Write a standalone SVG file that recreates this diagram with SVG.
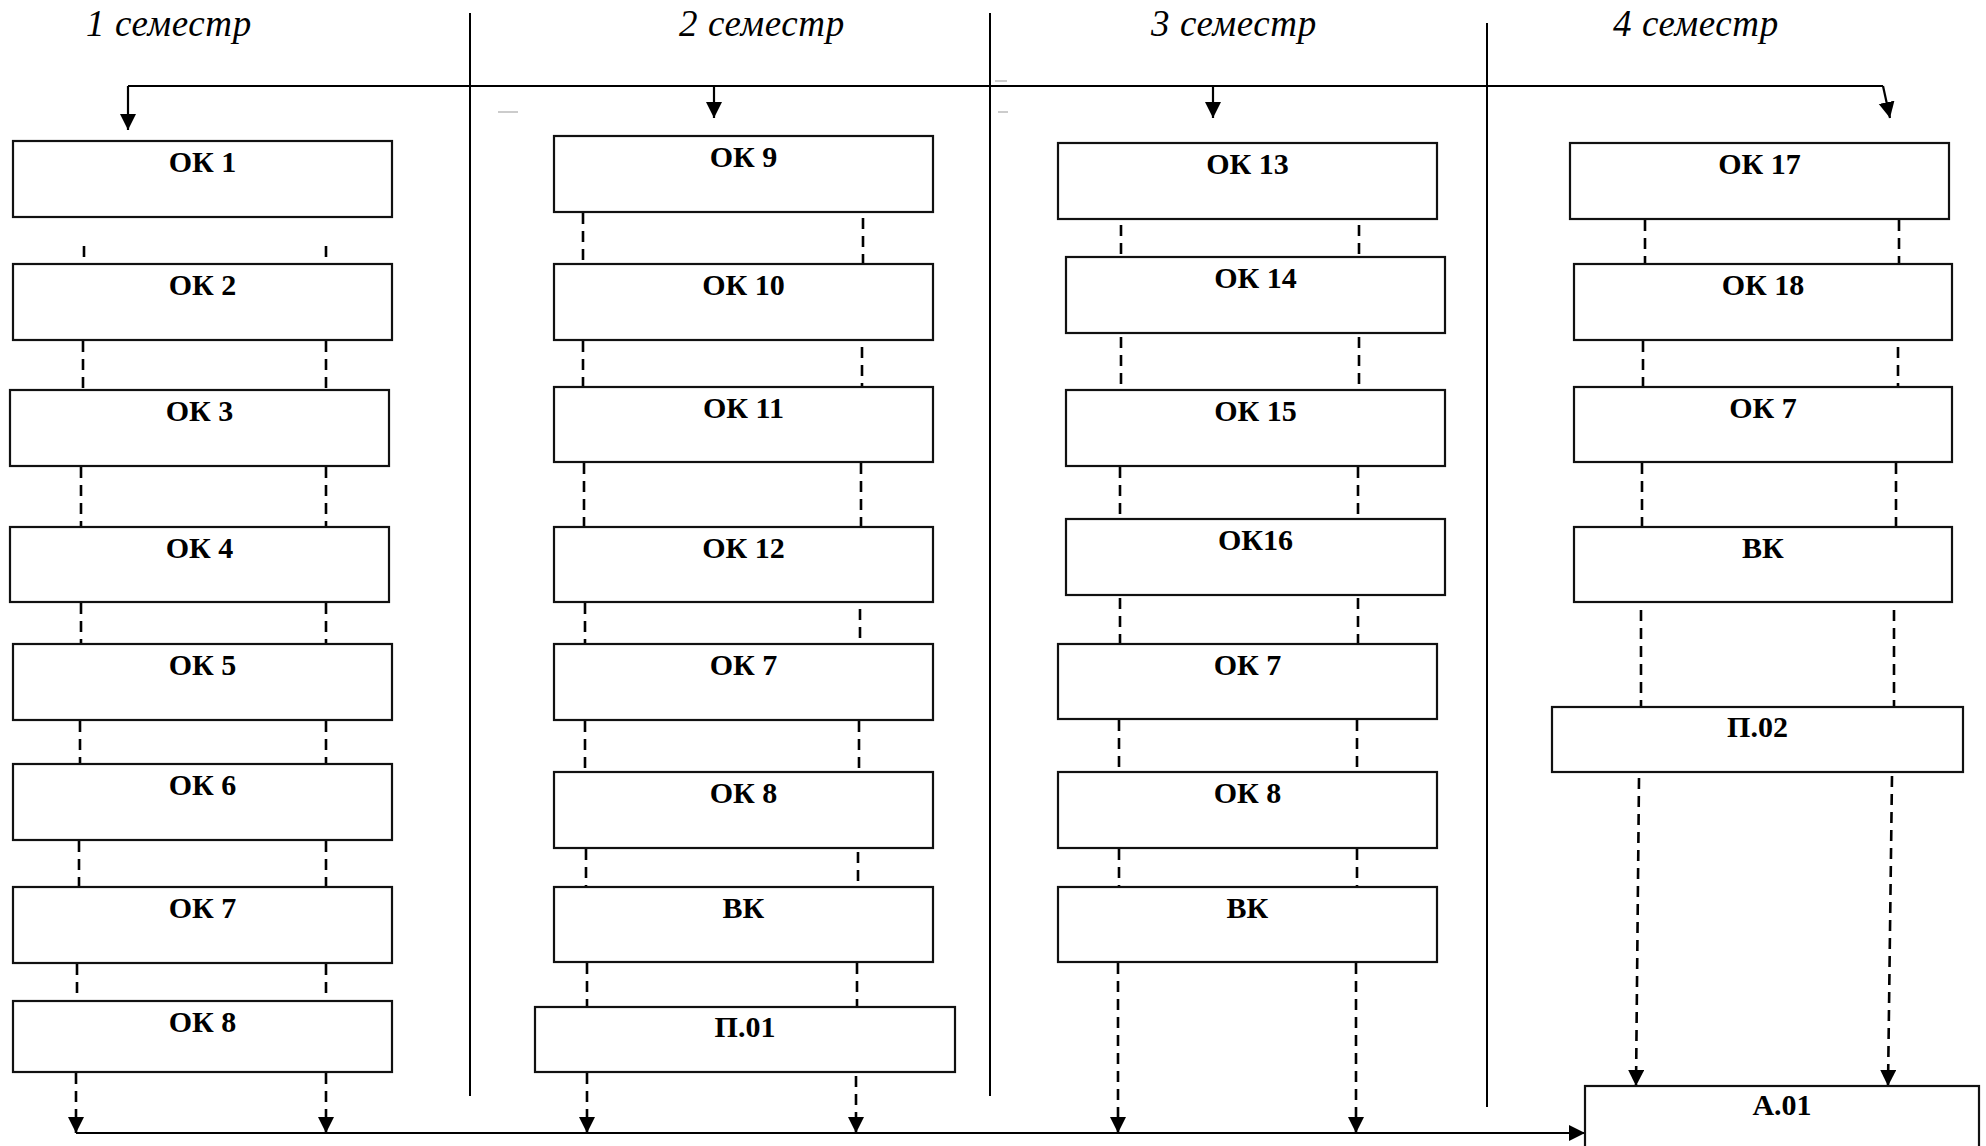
<svg xmlns="http://www.w3.org/2000/svg" width="1986" height="1146" viewBox="0 0 1986 1146">
<style>
  .box { fill: #ffffff; stroke: #111111; stroke-width: 2.2; }
  .lbl { font-family: "Liberation Serif", "Times New Roman", serif; font-weight: bold; font-size: 30px; fill: #000; text-anchor: middle; }
  .hdr { font-family: "Liberation Serif", "Times New Roman", serif; font-style: italic; font-size: 37px; letter-spacing: 0.6px; fill: #000; }
  .div { stroke: #000; stroke-width: 2; fill: none; }
  .solid { stroke: #000; stroke-width: 2.2; fill: none; }
  .dash { stroke: #000; stroke-width: 2.6; fill: none; stroke-dasharray: 11 7; }
  .art { stroke: #999; stroke-width: 1; }
</style>
<defs>
  <marker id="ah" markerUnits="userSpaceOnUse" markerWidth="17" markerHeight="17" refX="16" refY="8" orient="auto">
    <path d="M0,0 L16,8 L0,16 z" fill="#000"/>
  </marker>
</defs>
<rect x="0" y="0" width="1986" height="1146" fill="#ffffff"/>

<g id="headers">
  <text class="hdr" x="86" y="36">1 семестр</text>
  <text class="hdr" x="679" y="36">2 семестр</text>
  <text class="hdr" x="1151" y="36">3 семестр</text>
  <text class="hdr" x="1613" y="36">4 семестр</text>
</g>

<g id="dividers">
  <line class="div" x1="470" y1="13" x2="470" y2="1096"/>
  <line class="div" x1="990" y1="13" x2="990" y2="1096"/>
  <line class="div" x1="1487" y1="23" x2="1487" y2="1107"/>
  <line class="art" x1="498" y1="112" x2="518" y2="112"/>
  <line class="art" x1="998" y1="112" x2="1008" y2="112"/>
  <line class="art" x1="995" y1="81" x2="1007" y2="81"/>
</g>

<g id="connectors">
  <path class="solid" d="M128,86 L1883,86"/>
  <path class="solid" d="M128,86 L128,130" marker-end="url(#ah)"/>
  <path class="solid" d="M714,86 L714,118" marker-end="url(#ah)"/>
  <path class="solid" d="M1213,86 L1213,118" marker-end="url(#ah)"/>
  <path class="solid" d="M1883,86 L1890,118" marker-end="url(#ah)"/>

  <path class="dash" d="M84,246 L84,262 M326,246 L326,262"/>
  <path class="dash" d="M83,341 L83,390 M326,341 L326,390"/>
  <path class="dash" d="M81,467 L81,527 M326,467 L326,527"/>
  <path class="dash" d="M81,603 L81,644 M326,603 L326,644"/>
  <path class="dash" d="M80,721 L80,764 M326,721 L326,764"/>
  <path class="dash" d="M79,841 L79,887 M326,841 L326,887"/>
  <path class="dash" d="M77,964 L77,1001 M326,964 L326,1001"/>
  <path class="dash" d="M76,1073 L76,1133" marker-end="url(#ah)"/>
  <path class="dash" d="M326,1073 L326,1133" marker-end="url(#ah)"/>

  <path class="dash" d="M583,213 L583,264 M863,218 L863,264"/>
  <path class="dash" d="M583,341 L583,387 M862,347 L862,387"/>
  <path class="dash" d="M584,463 L584,527 M861,463 L861,527"/>
  <path class="dash" d="M585,603 L585,644 M860,609 L860,644"/>
  <path class="dash" d="M585,721 L585,772 M859,721 L859,772"/>
  <path class="dash" d="M586,849 L586,887 M858,852 L858,887"/>
  <path class="dash" d="M587,963 L587,1007 M857,963 L857,1007"/>
  <path class="dash" d="M587,1073 L587,1133" marker-end="url(#ah)"/>
  <path class="dash" d="M856,1076 L856,1133" marker-end="url(#ah)"/>

  <path class="dash" d="M1121,225 L1121,257 M1359,225 L1359,257"/>
  <path class="dash" d="M1121,337 L1121,390 M1359,337 L1359,390"/>
  <path class="dash" d="M1120,467 L1120,519 M1358,467 L1358,519"/>
  <path class="dash" d="M1120,598 L1120,644 M1358,598 L1358,644"/>
  <path class="dash" d="M1119,720 L1119,772 M1357,720 L1357,772"/>
  <path class="dash" d="M1119,849 L1119,887 M1357,849 L1357,887"/>
  <path class="dash" d="M1118,963 L1118,1133" marker-end="url(#ah)"/>
  <path class="dash" d="M1356,963 L1356,1133" marker-end="url(#ah)"/>

  <path class="dash" d="M1645,220 L1645,264 M1899,220 L1899,264"/>
  <path class="dash" d="M1643,341 L1643,387 M1898,347 L1898,387"/>
  <path class="dash" d="M1642,463 L1642,527 M1896,463 L1896,527"/>
  <path class="dash" d="M1641,610 L1641,707 M1894,610 L1894,707"/>
  <path class="dash" d="M1639,778 L1636,1086" marker-end="url(#ah)"/>
  <path class="dash" d="M1892,776 L1888,1086" marker-end="url(#ah)"/>

  <path class="solid" d="M76,1133 L1585,1133" stroke-width="2.6" marker-end="url(#ah)"/>
</g>

<g id="n-ok1"><rect class="box" x="13" y="141" width="379" height="76"/><text class="lbl" x="202.5" y="172">ОК 1</text></g>
<g id="n-ok2"><rect class="box" x="13" y="264" width="379" height="76"/><text class="lbl" x="202.5" y="295">ОК 2</text></g>
<g id="n-ok3"><rect class="box" x="10" y="390" width="379" height="76"/><text class="lbl" x="199.5" y="421">ОК 3</text></g>
<g id="n-ok4"><rect class="box" x="10" y="527" width="379" height="75"/><text class="lbl" x="199.5" y="558">ОК 4</text></g>
<g id="n-ok5"><rect class="box" x="13" y="644" width="379" height="76"/><text class="lbl" x="202.5" y="675">ОК 5</text></g>
<g id="n-ok6"><rect class="box" x="13" y="764" width="379" height="76"/><text class="lbl" x="202.5" y="795">ОК 6</text></g>
<g id="n-ok7-s1"><rect class="box" x="13" y="887" width="379" height="76"/><text class="lbl" x="202.5" y="918">ОК 7</text></g>
<g id="n-ok8-s1"><rect class="box" x="13" y="1001" width="379" height="71"/><text class="lbl" x="202.5" y="1032">ОК 8</text></g>

<g id="n-ok9"><rect class="box" x="554" y="136" width="379" height="76"/><text class="lbl" x="743.5" y="167">ОК 9</text></g>
<g id="n-ok10"><rect class="box" x="554" y="264" width="379" height="76"/><text class="lbl" x="743.5" y="295">ОК 10</text></g>
<g id="n-ok11"><rect class="box" x="554" y="387" width="379" height="75"/><text class="lbl" x="743.5" y="418">ОК 11</text></g>
<g id="n-ok12"><rect class="box" x="554" y="527" width="379" height="75"/><text class="lbl" x="743.5" y="558">ОК 12</text></g>
<g id="n-ok7-s2"><rect class="box" x="554" y="644" width="379" height="76"/><text class="lbl" x="743.5" y="675">ОК 7</text></g>
<g id="n-ok8-s2"><rect class="box" x="554" y="772" width="379" height="76"/><text class="lbl" x="743.5" y="803">ОК 8</text></g>
<g id="n-vk-s2"><rect class="box" x="554" y="887" width="379" height="75"/><text class="lbl" x="743.5" y="918">ВК</text></g>
<g id="n-p01"><rect class="box" x="535" y="1007" width="420" height="65"/><text class="lbl" x="745" y="1037">П.01</text></g>

<g id="n-ok13"><rect class="box" x="1058" y="143" width="379" height="76"/><text class="lbl" x="1247.5" y="174">ОК 13</text></g>
<g id="n-ok14"><rect class="box" x="1066" y="257" width="379" height="76"/><text class="lbl" x="1255.5" y="288">ОК 14</text></g>
<g id="n-ok15"><rect class="box" x="1066" y="390" width="379" height="76"/><text class="lbl" x="1255.5" y="421">ОК 15</text></g>
<g id="n-ok16"><rect class="box" x="1066" y="519" width="379" height="76"/><text class="lbl" x="1255.5" y="550">ОК16</text></g>
<g id="n-ok7-s3"><rect class="box" x="1058" y="644" width="379" height="75"/><text class="lbl" x="1247.5" y="675">ОК 7</text></g>
<g id="n-ok8-s3"><rect class="box" x="1058" y="772" width="379" height="76"/><text class="lbl" x="1247.5" y="803">ОК 8</text></g>
<g id="n-vk-s3"><rect class="box" x="1058" y="887" width="379" height="75"/><text class="lbl" x="1247.5" y="918">ВК</text></g>

<g id="n-ok17"><rect class="box" x="1570" y="143" width="379" height="76"/><text class="lbl" x="1759.5" y="174">ОК 17</text></g>
<g id="n-ok18"><rect class="box" x="1574" y="264" width="378" height="76"/><text class="lbl" x="1763" y="295">ОК 18</text></g>
<g id="n-ok7-s4"><rect class="box" x="1574" y="387" width="378" height="75"/><text class="lbl" x="1763" y="418">ОК 7</text></g>
<g id="n-vk-s4"><rect class="box" x="1574" y="527" width="378" height="75"/><text class="lbl" x="1763" y="558">ВК</text></g>
<g id="n-p02"><rect class="box" x="1552" y="707" width="411" height="65"/><text class="lbl" x="1757.5" y="737">П.02</text></g>
<g id="n-a01"><rect class="box" x="1585" y="1086" width="394" height="70"/><text class="lbl" x="1782" y="1115">А.01</text></g>
</svg>
